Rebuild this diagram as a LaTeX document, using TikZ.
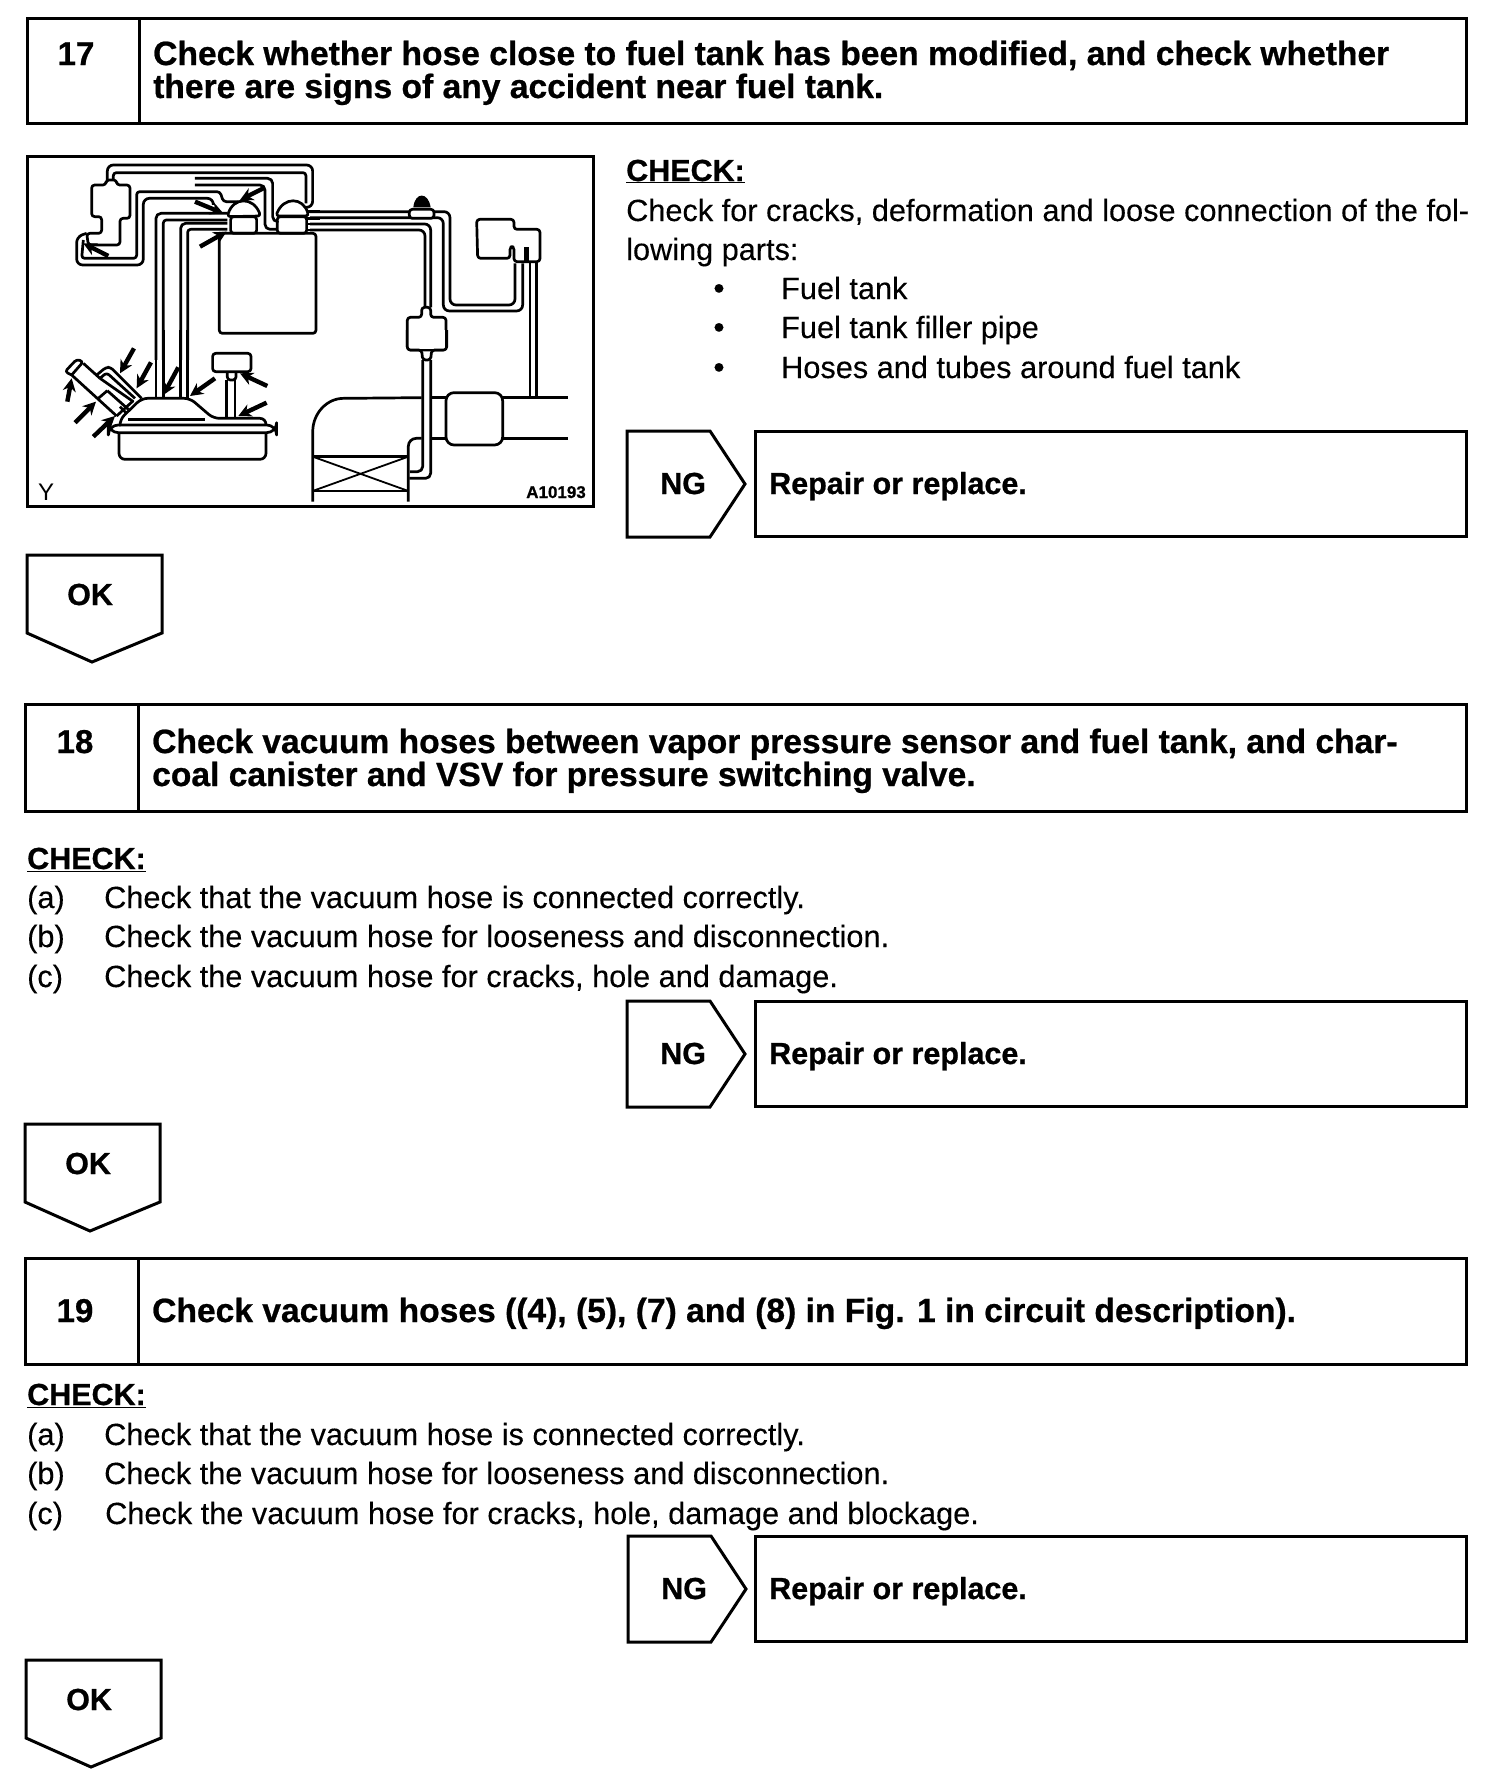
\documentclass[tikz,border=0pt]{standalone}
\usepackage{fontspec}
\setmainfont{Liberation Sans}
\newfontfamily\hvyfont[FakeBold=0.7]{Liberation Sans Bold}
\newfontfamily\medfont[FakeBold=0.2]{Liberation Sans}
\usetikzlibrary{arrows.meta}
\tikzset{
  box/.style={draw=black,line width=3pt,line join=miter},
  htxt/.style={anchor=base west,inner sep=0pt,font=\fontsize{33.6}{33}\hvyfont\selectfont},
  numtxt/.style={anchor=base,inner sep=0pt,font=\fontsize{33}{33}\hvyfont\selectfont},
  btxt/.style={anchor=base west,inner sep=0pt,font=\fontsize{30.7}{33}\medfont\selectfont},
  bul/.style={anchor=base,inner sep=0pt,font=\fontsize{32}{33}\medfont\selectfont},
  ctxt/.style={anchor=base west,inner sep=0pt,font=\fontsize{30.5}{33}\hvyfont\selectfont},
  rtxt/.style={anchor=base west,inner sep=0pt,font=\fontsize{30.5}{33}\hvyfont\selectfont},
  ln/.style={draw=black,line width=2.7pt,line join=round,rounded corners=3pt},
  ar/.style={draw=black,line width=4.4pt,-{Stealth[length=13pt,width=13pt]}},
  zf/.style={shift={(#1)},x=0.3333pt,y=-0.3333pt}
}
\newcommand{\ngbox}[3]{% name, top, left
  \draw[box] (#3,#2) -- ++(83,0) -- ++(35,53) -- ++(-35,53) -- ++(-83,0) -- cycle;
  \draw[box] (755,#2) rectangle (1466,#2+105);
  \node[rtxt] (ng#1) at (#3+33,#2+63) {NG};
  \node[rtxt] (rp#1) at (769,#2+63) {Repair or replace.};
}
\newcommand{\okbox}[3]{% name, top, left
  \draw[box] (#3,#2) -- ++(135,0) -- ++(0,78) -- ++(-70,29) -- ++(-65,-29) -- cycle;
  \node[rtxt] (ok#1) at (#3+40,#2+50) {OK};
}
\begin{document}
\begin{tikzpicture}[x=1pt,y=-1pt]
\useasboundingbox (0,0) rectangle (1504,1788);
\fill[white] (0,0) rectangle (1504,1788);
% ---------- 17
\draw[box] (27,18) rectangle (1466,123);
\draw[box] (139,18) -- (139,123);
\node[numtxt] (n17) at (76,65) {17};
\node[htxt] (h17a) at (153,65) {Check whether hose close to fuel tank has been modified, and check whether};
\node[htxt] (h17b) at (153,98) {there are signs of any accident near fuel tank.};
% figure frame
\draw[draw=black,line width=3pt] (27,156) rectangle (593,506);
\node[anchor=base west,inner sep=0pt,font=\fontsize{24}{25}\selectfont] (figy) at (38,500) {Y};
\node[anchor=base east,inner sep=0pt,font=\fontsize{17}{20}\hvyfont\selectfont] (figa) at (586,498) {A10193};
\begin{scope}[zf={20,150}]
  \draw[ln] (258,90)--(290,90)--(290,105)--(330,105)--(330,205)--(300,205)--(300,285)--(205,285)--(200,250)--(245,250)--(245,200)--(215,200)--(215,105)--(258,105)--cycle;
  \draw[ln,rounded corners=6pt] (262,90)--(262,45)--(878,45)--(878,172)--(862,172);
  \draw[ln] (280,90)--(280,68)--(858,68)--(858,160);
  \draw[ln,rounded corners=6pt] (200,250)--(170,260)--(170,345)--(370,345)--(370,145)--(580,145)--(580,165);
  \draw[ln] (190,270)--(185,325)--(350,325)--(350,125)--(600,125)--(610,155)--(655,155);
  \draw[ln,rounded corners=5pt] (525,85)--(758,85)--(758,215)--(772,215);
  \draw[ln,rounded corners=5pt] (525,105)--(735,105)--(735,238)--(772,238);
  \draw[ln,rounded corners=5pt] (408,630)--(408,190)--(622,190);
  \draw[ln] (430,630)--(430,210)--(622,210);
  \draw[ln,rounded corners=5pt] (482,630)--(482,220)--(622,220);
  \draw[ln] (503,630)--(503,238)--(622,238);
  \draw[ln] (622,200) .. controls (640,140) and (700,140) .. (722,198) -- cycle;
  \draw[ln] (632,200) rectangle (710,250);
  \draw[ln] (768,198) .. controls (790,140) and (850,140) .. (866,198) -- cycle;
  \draw[ln] (772,200) rectangle (860,250);
  \draw[ln] (598,250) rectangle (888,550);
  \draw[ln] (862,185)--(900,185);
  \draw[ln] (862,205)--(900,205);
  \draw[ln] (862,222)--(900,222);
  \draw[ln] (862,240)--(900,240);
  \draw[ar] (265,318)--(190,280);
  \draw[ar] (730,115)--(660,150);
  \draw[ar] (525,155)--(610,190);
  \draw[ar] (540,290)--(620,245);
\end{scope}
\begin{scope}[zf={310,150}]
  \draw[ln,rounded corners=6pt] (0,185)--(420,185)--(420,465)--(615,465)--(615,340);
  \draw[ln,rounded corners=6pt] (0,203)--(400,203)--(400,483)--(638,483)--(638,340);
  \draw[ln,rounded corners=6pt] (0,222)--(362,222)--(362,472);
  \draw[ln,rounded corners=6pt] (0,240)--(345,240)--(345,472);
  \draw[ln,fill=white] (298,178) rectangle (372,205);
  \fill[black] (310,172) .. controls (315,125) and (355,125) .. (362,172) -- cycle;
  \draw[ln] (500,208)--(612,208)--(612,238)--(690,238)--(690,335)--(612,335)--(612,290)--(600,290)--(600,325)--(503,325)--cycle;
  \fill[black] (643,290) rectangle (656,335);
  \draw[ln] (660,335)--(660,630);
  \draw[ln] (680,335)--(680,630);
  \draw[ln,fill=white] (335,472)--(362,472)--(362,502)--(408,502)--(408,600)--(292,600)--(292,502)--(335,502)--cycle;
\end{scope}
\begin{scope}[zf={310,330}]
  \fill[white] (294,0) rectangle (406,58);
  \draw[ln] (292,0)--(292,60)--(335,60)--(338,90)--(362,90)--(365,60)--(410,60)--(410,0);
  \draw[ln,rounded corners=5pt] (338,90)--(338,425)--(300,425);
  \draw[ln,rounded corners=5pt] (362,90)--(362,445)--(298,445);
  \draw[ln] (660,0)--(660,200);
  \draw[ln] (680,0)--(680,200);
  \draw[ln] (8,515)--(8,310) .. controls (10,250) and (50,205) .. (110,205) -- (335,203);
  \draw[ln] (362,203)--(408,203);
  \draw[ln] (578,203)--(775,203);
  \draw[ln,rounded corners=8pt] (295,515)--(295,325)--(335,325);
  \draw[ln] (362,325)--(408,325);
  \draw[ln] (578,325)--(775,325);
  \draw[ln,rounded corners=8pt] (408,188) rectangle (578,345);
  \draw[ln] (8,380)--(295,380);
  \draw[ln] (8,483)--(295,483);
  \draw[ln,line width=1.8pt] (8,380)--(295,483);
  \draw[ln,line width=1.8pt] (8,483)--(295,380);
\end{scope}
\begin{scope}[zf={20,330}]
  \draw[ln,rounded corners=10pt] (265,285) rectangle (770,308);
  \draw[ln,rounded corners=6pt] (297,308)--(297,388)--(738,388)--(738,308);
  \draw[ln,rounded corners=6pt] (300,285)--(300,268)--(365,205)--(510,205)--(580,265)--(738,265)--(738,285);
  \draw[ln] (325,268)--(555,268);
  \draw[ln] (620,150)--(620,265);
  \draw[ln] (645,150)--(645,265);
  \draw[ln] (622,125)--(622,150)--(648,150)--(648,125);
  \draw[ln] (578,70) rectangle (693,125);
  \draw[ln] (408,0)--(408,205);
  \draw[ln] (430,0)--(430,205);
  \draw[ln] (482,0)--(482,205);
  \draw[ln] (503,0)--(503,205);
  \draw[ln] (155,135)--(135,125)--(170,88)--(190,95)--(155,135);
  \draw[ln] (155,135)--(290,258);
  \draw[ln] (190,100)--(240,145);
  \draw[ln] (230,135)--(258,112)--(272,112)--(365,205);
  \draw[ln] (240,145)--(260,128)--(345,205);
  \draw[ln] (240,145)--(340,215);
  \draw[ln] (235,205)--(262,182);
  \draw[ln] (262,182)--(325,238);
  \draw[ln] (290,258)--(340,212);
  \draw[ln] (300,230)--(320,250);
  \draw[ar] (342,55)--(300,130);
  \draw[ar] (393,97)--(350,175);
  \draw[ar] (475,112)--(430,195);
  \draw[ar] (585,145)--(510,198);
  \draw[ar] (742,168)--(660,130);
  \draw[ar] (740,218)--(655,258);
  \draw[ar] (165,278)--(228,215);
  \draw[ar] (220,320)--(285,258);
  \draw[ar] (142,215)--(155,145);
\end{scope}
% right text
\node[ctxt] (c17) at (626,181) {\underline{CHECK:}};
\node[btxt] (t17a) at (626,221) {Check for cracks, deformation and loose connection of the fol-};
\node[btxt] (t17b) at (626,260) {lowing parts:};
\node[bul] (d1) at (719,299) {•};
\node[btxt] (l1) at (781,299) {Fuel tank};
\node[bul] (d2) at (719,338) {•};
\node[btxt] (l2) at (781,338) {Fuel tank filler pipe};
\node[bul] (d3) at (719,378) {•};
\node[btxt] (l3) at (781,378) {Hoses and tubes around fuel tank};
\ngbox{a}{431}{627}
\okbox{a}{555}{27}
% ---------- 18
\draw[box] (25,704) rectangle (1466,811);
\draw[box] (138,704) -- (138,811);
\node[numtxt] (n18) at (75,753) {18};
\node[htxt] (h18a) at (152,753) {Check vacuum hoses between vapor pressure sensor and fuel tank, and char-};
\node[htxt] (h18b) at (152,786) {coal canister and VSV for pressure switching valve.};
\node[ctxt] (c18) at (27,869) {\underline{CHECK:}};
\node[btxt] (a18l) at (27,908) {(a)};
\node[btxt] (a18t) at (104,908) {Check that the vacuum hose is connected correctly.};
\node[btxt] (b18l) at (27,947) {(b)};
\node[btxt] (b18t) at (104,947) {Check the vacuum hose for looseness and disconnection.};
\node[btxt] (c18l) at (27,987) {(c)};
\node[btxt] (c18t) at (104,987) {Check the vacuum hose for cracks, hole and damage.};
\ngbox{b}{1001}{627}
\okbox{b}{1124}{25}
% ---------- 19
\draw[box] (25,1258) rectangle (1466,1364);
\draw[box] (138,1258) -- (138,1364);
\node[numtxt] (n19) at (75,1322) {19};
\node[htxt] (h19a) at (152,1322) {Check vacuum hoses ((4), (5), (7) and (8) in Fig. 1 in circuit description).};
\node[ctxt] (c19) at (27,1405) {\underline{CHECK:}};
\node[btxt] (a19l) at (27,1445) {(a)};
\node[btxt] (a19t) at (104,1445) {Check that the vacuum hose is connected correctly.};
\node[btxt] (b19l) at (27,1484) {(b)};
\node[btxt] (b19t) at (104,1484) {Check the vacuum hose for looseness and disconnection.};
\node[btxt] (c19l) at (27,1524) {(c)};
\node[btxt] (c19t) at (105,1524) {Check the vacuum hose for cracks, hole, damage and blockage.};
\ngbox{c}{1536}{628}
\okbox{c}{1660}{26}
\end{tikzpicture}
\end{document}
